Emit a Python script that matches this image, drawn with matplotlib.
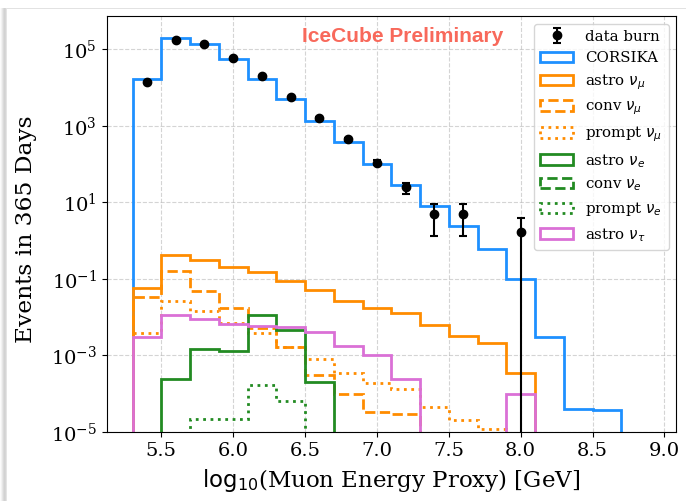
import numpy as np
import matplotlib
matplotlib.use("Agg")
import matplotlib.pyplot as plt
from matplotlib.patches import Rectangle
import matplotlib.ticker as mticker

# Binning in log10(muon energy proxy / GeV)
bin_edges = [5.3, 5.5, 5.7, 5.9, 6.1, 6.3, 6.5, 6.7, 6.9, 7.1, 7.3,
             7.5, 7.7, 7.9, 8.1, 8.3, 8.5, 8.7]
bin_centers = [5.4, 5.6, 5.8, 6.0, 6.2, 6.4, 6.6, 6.8, 7.0, 7.2, 7.4,
               7.6, 7.8, 8.0, 8.2, 8.4, 8.6]

# Expected events per bin for each MC component
corsika = [1.65e4, 1.94e5, 1.40e5, 5.5e4, 1.71e4, 4.97e3, 1.37e3, 376, 102,
           27.7, 8.2, 2.37, 0.62, 0.10, 3.1e-3, 4.1e-5, 3.8e-5]
astro_numu = [0.057, 0.43, 0.31, 0.21, 0.15, 0.087, 0.050, 0.026, 0.0169,
              0.0125, 6.2e-3, 3.3e-3, 2.15e-3, 3.5e-4, 0, 0, 0]
conv_numu = [0.033, 0.16, 0.049, 0.0169, 5.1e-3, 1.65e-3, 3.0e-4, 9.7e-5,
             3.3e-5, 2.9e-5, 0, 0, 0, 0, 0, 0, 0]
prompt_numu = [3.8e-3, 0.026, 0.0144, 7.2e-3, 3.9e-3, 1.7e-3, 7.9e-4, 3.5e-4,
               1.87e-4, 1.3e-4, 4.4e-5, 2.0e-5, 1.2e-5, 0, 0, 0, 0]
astro_nue = [0, 2.4e-4, 1.5e-3, 1.3e-3, 0.0113, 4.6e-3, 2.0e-4, 0, 0, 0, 0,
             0, 0, 0, 0, 0, 0]
conv_nue = [0, 0, 0, 0, 0, 0, 0, 0, 0, 0, 0, 0, 0, 0, 0, 0, 0]
prompt_nue = [0, 0, 2.2e-5, 2.2e-5, 1.73e-4, 6.5e-5, 0, 0, 0, 0, 0, 0, 0, 0,
              0, 0, 0]
astro_nutau = [3.1e-3, 0.0111, 9.1e-3, 6.8e-3, 5.9e-3, 5.6e-3, 4.1e-3,
               1.76e-3, 1.05e-3, 2.5e-4, 0, 0, 0, 1.0e-4, 0, 0, 0]

# Burn-sample data points
data_x = [5.4, 5.6, 5.8, 6.0, 6.2, 6.4, 6.6, 6.8, 7.0, 7.2, 7.4, 7.6, 8.0]
data_y = [1.38e4, 1.75e5, 1.4e5, 6.0e4, 2.0e4, 5.7e3, 1.65e3, 440, 110,
          24.5, 5.1, 5.1, 1.65]
data_err = [200, 700, 630, 410, 240, 126, 68, 35, 17.5, 8.3, 3.8, 3.8, 2.2]

x_ticks = [5.5, 6.0, 6.5, 7.0, 7.5, 8.0, 8.5, 9.0]
y_ticks = [1e-5, 1e-3, 1e-1, 1e1, 1e3, 1e5]

plt.rcParams["font.family"] = "serif"
plt.rcParams["font.serif"] = ["DejaVu Serif"]

fig = plt.figure(figsize=(6.86, 5.01), dpi=100)

# Light card frame with a soft shadow on the left
W, H = 686.0, 501.0
shadow = ["#fbfbfb", "#f2f2f2", "#e6e6e6", "#dadada", "#d2d2d2", "#d6d6d6",
          "#e4e4e4"]
for i, c in enumerate(shadow):
    fig.patches.append(Rectangle((i / W, 0), 1 / W, 1 - 8 / H,
                                 transform=fig.transFigure, color=c, lw=0,
                                 zorder=0))
fig.patches.append(Rectangle((7 / W, 1 - 9 / H), 1 - 7 / W, 1.2 / H,
                             transform=fig.transFigure, color="#e2e2e2",
                             lw=0, zorder=0))

ax = fig.add_axes([106.7 / W, 1 - 432 / H, (676 - 106.7) / W, (432 - 16) / H])

lw = 2
components = [
    (corsika, "dodgerblue", "-", "CORSIKA"),
    (astro_numu, "darkorange", "-", r"astro $\nu_\mu$"),
    (conv_numu, "darkorange", "--", r"conv $\nu_\mu$"),
    (prompt_numu, "darkorange", ":", r"prompt $\nu_\mu$"),
    (astro_nue, "forestgreen", "-", r"astro $\nu_e$"),
    (conv_nue, "forestgreen", "--", r"conv $\nu_e$"),
    (prompt_nue, "forestgreen", ":", r"prompt $\nu_e$"),
    (astro_nutau, "orchid", "-", r"astro $\nu_\tau$"),
]
for vals, col, ls, lab in components:
    ax.hist(bin_centers, bins=bin_edges, weights=vals, histtype="step",
            color=col, ls=ls, lw=lw, label=lab)

ax.errorbar(data_x, data_y, yerr=data_err, fmt="o", color="k", ms=6,
            capsize=3, elinewidth=1.5, capthick=1.5, label="data burn",
            zorder=5)

ax.set_yscale("log")
ax.set_xlim(5.12, 9.08)
ax.set_ylim(1e-5, 10 ** 5.87)
ax.yaxis.set_major_locator(mticker.FixedLocator(y_ticks))
ax.yaxis.set_minor_locator(mticker.NullLocator())
ax.xaxis.set_major_locator(mticker.FixedLocator(x_ticks))
ax.xaxis.set_major_formatter(mticker.FormatStrFormatter("%.1f"))
ax.tick_params(labelsize=14)
ax.grid(True, ls="--", color="#b8b8b8", lw=0.8, alpha=0.6)

ax.set_xlabel(r"$\log_{10}\!$(Muon Energy Proxy) [GeV]", fontsize=16.5)
ax.xaxis.set_label_coords(0.5, -0.085)
ax.set_ylabel("Events in 365 Days", fontsize=16.8)
ax.yaxis.set_label_coords(-0.122, 0.488)

ax.text(0.52, 0.951, "IceCube Preliminary", transform=ax.transAxes,
        ha="center", va="center", fontsize=15, fontweight="bold",
        family="Liberation Sans", color="#f8695b")

handles, labels = ax.get_legend_handles_labels()
handles = handles[-1:] + handles[:-1]
labels = labels[-1:] + labels[:-1]
ax.legend(handles, labels, loc="upper right", fontsize=10.8, handlelength=2.2)

fig.savefig("out.png", dpi=100)
